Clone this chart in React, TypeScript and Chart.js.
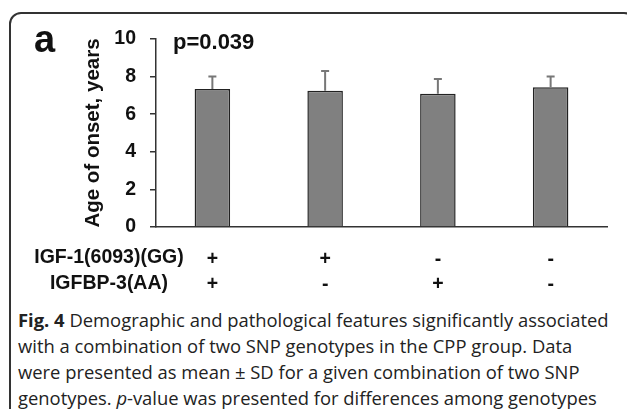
import React, { useEffect, useRef } from "react";
import { Chart, registerables } from "chart.js";

Chart.register(...registerables);

const igf1Genotype = ["+", "+", "-", "-"];
const igfbp3Genotype = ["+", "-", "+", "-"];
const meanAge = [7.34, 7.25, 7.09, 7.43];
const sdAge = [0.67, 1.05, 0.78, 0.58];
const yTicks = [0, 2, 4, 6, 8, 10];

const FONT = "'Liberation Sans', Arial, sans-serif";

const errorBarPlugin = {
  id: "errorBars",
  afterDatasetsDraw(chart: any) {
    const meta = chart.getDatasetMeta(0);
    const yScale = chart.scales.y;
    const ctx = chart.ctx;
    ctx.save();
    ctx.strokeStyle = "#777777";
    ctx.lineWidth = 2;
    meta.data.forEach((bar: any, i: number) => {
      const top = yScale.getPixelForValue(meanAge[i] + sdAge[i]);
      ctx.beginPath();
      ctx.moveTo(bar.x, bar.y);
      ctx.lineTo(bar.x, top);
      ctx.moveTo(bar.x - 4, top);
      ctx.lineTo(bar.x + 4, top);
      ctx.stroke();
    });
    ctx.restore();
  },
};

export default function App() {
  const ref = useRef<HTMLCanvasElement | null>(null);

  useEffect(() => {
    if (!ref.current) return;
    const labels = igf1Genotype.map((g, i) => [g, igfbp3Genotype[i]]);
    const chart = new Chart(ref.current, {
      type: "bar",
      data: {
        labels,
        datasets: [
          {
            data: meanAge,
            backgroundColor: "#808080",
            borderColor: "#222222",
            borderWidth: 1.5,
            barPercentage: 0.315,
            categoryPercentage: 1,
          },
        ],
      },
      options: {
        animation: false,
        responsive: false,
        devicePixelRatio: 1,
        layout: { padding: { left: 0, right: 20, top: 39, bottom: 0 } },
        plugins: {
          legend: { display: false },
          tooltip: { enabled: false },
          title: { display: false },
        },
        scales: {
          x: {
            type: "category",
            grid: { display: false },
            border: { display: true, color: "#333333", width: 1.5 },
            ticks: {
              padding: 12,
              color: "#111111",
              maxRotation: 0,
              font: { family: FONT, size: 19.5, weight: "bold", lineHeight: 1.28 },
            },
            afterFit(scale: any) {
              scale.height = 73;
            },
          },
          y: {
            min: 0,
            max: 10,
            afterBuildTicks(scale: any) {
              scale.ticks = yTicks.map((v) => ({ value: v }));
            },
            grid: {
              display: true,
              drawOnChartArea: false,
              drawTicks: true,
              tickLength: 6,
              color: "#333333",
              lineWidth: 1.5,
            },
            border: { display: true, color: "#333333", width: 1.5 },
            ticks: {
              padding: 14,
              color: "#111111",
              font: { family: FONT, size: 19.5, weight: "bold" },
            },
            title: {
              display: true,
              text: "Age of onset, years",
              color: "#111111",
              font: { family: FONT, size: 20.5, weight: "bold" },
              padding: { top: 80.7, bottom: 0 },
            },
            afterFit(scale: any) {
              scale.width = 156;
            },
          },
        },
      },
      plugins: [errorBarPlugin],
    });
    return () => chart.destroy();
  }, []);

  return (
    <div
      style={{
        position: "fixed",
        left: 0,
        top: 0,
        width: 627,
        height: 409,
        overflow: "hidden",
        background: "#ffffff",
        fontFamily: FONT,
      }}
    >
      <div
        style={{
          position: "absolute",
          left: 9,
          top: 12,
          width: 627,
          height: 430,
          boxSizing: "border-box",
          border: "2px solid #333333",
          borderRadius: 12,
        }}
      />
      <canvas
        ref={ref}
        width={627}
        height={300}
        style={{ position: "absolute", left: 0, top: 0, width: 627, height: 300 }}
      />
      <div
        style={{
          position: "absolute",
          left: 34,
          top: 20,
          fontSize: 38,
          lineHeight: "38px",
          fontWeight: "bold",
          color: "#111",
        }}
      >
        a
      </div>
      <div
        style={{
          position: "absolute",
          left: 173,
          top: 31,
          fontSize: 22,
          lineHeight: "22px",
          fontWeight: "bold",
          color: "#111",
          whiteSpace: "nowrap",
        }}
      >
        p=0.039
      </div>
      <div
        style={{
          position: "absolute",
          left: 0,
          top: 243,
          width: 218,
          textAlign: "center",
          fontSize: 19.5,
          lineHeight: "26px",
          fontWeight: "bold",
          color: "#111",
          whiteSpace: "nowrap",
        }}
      >
        IGF-1(6093)(GG)
        <br />
        IGFBP-3(AA)
      </div>
      <div
        style={{
          position: "absolute",
          left: 18,
          top: 307,
          fontFamily: "'Open Sans', sans-serif",
          fontSize: 18.4,
          lineHeight: "26px",
          color: "#222",
          whiteSpace: "nowrap",
        }}
      >
        <b>Fig. 4</b> Demographic and pathological features significantly associated
        <br />
        with a combination of two SNP genotypes in the CPP group. Data
        <br />
        were presented as mean ± SD for a given combination of two SNP
        <br />
        genotypes. <i>p</i>-value was presented for differences among genotypes
      </div>
    </div>
  );
}
